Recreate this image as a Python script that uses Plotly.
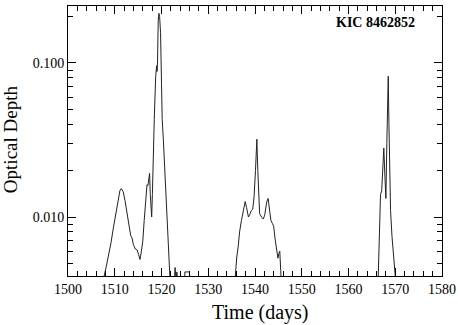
import plotly.graph_objects as go

# Time (days) and optical depth, None marks gaps between dips
time_days = [
    1507.4, 1507.7, 1508.2, 1508.7, 1509.2, 1509.7, 1510.2, 1510.7, 1511.1, 1511.4,
    1511.8, 1512.2, 1512.6, 1513.0, 1513.4, 1513.7, 1514.0, 1514.4, 1514.8, 1515.1,
    1515.4, 1515.7, 1516.0, 1516.3, 1516.6, 1516.9, 1517.1, 1517.3, 1517.45, 1517.6,
    1517.75, 1517.9, 1518.05, 1518.2, 1518.45, 1518.75, 1518.85, 1518.95, 1519.05, 1519.15,
    1519.3, 1519.45, 1519.6, 1519.8, 1520.0, 1520.15, 1520.4, 1520.8, 1521.2, 1521.5,
    1521.8, 1521.9, None,
    1522.7, 1522.9, 1523.1, 1523.3, 1523.5, None,
    1524.9, 1525.0, 1526.0, 1526.1, None,
    1535.6, 1535.8, 1536.1, 1536.4, 1536.7, 1537.1, 1537.5, 1537.9, 1538.2, 1538.6,
    1538.9, 1539.2, 1539.5, 1539.8, 1540.1, 1540.4, 1540.6, 1540.8, 1541.0, 1541.4,
    1541.8, 1542.1, 1542.5, 1542.8, 1543.1, 1543.4, 1543.7, 1544.0, 1544.3, 1544.6,
    1544.9, 1545.1, 1545.3, 1545.5, 1545.7, None,
    1566.3, 1566.6, 1566.85, 1567.1, 1567.3, 1567.55, 1567.8, 1568.0, 1568.2, 1568.35,
    1568.5, 1568.65, 1568.8, 1569.0, 1569.3, 1569.6, 1569.9, 1570.2,
]
optical_depth = [
    0.0035, 0.0041, 0.0048, 0.0056, 0.0068, 0.0085, 0.0105, 0.0130, 0.0148, 0.0153,
    0.0146, 0.0128, 0.0105, 0.0087, 0.0076, 0.0073, 0.0066, 0.0062, 0.0061, 0.0057,
    0.0053, 0.0060, 0.0070, 0.0095, 0.0135, 0.0162, 0.0160, 0.0185, 0.0192, 0.0140,
    0.0105, 0.0100, 0.0140, 0.0250, 0.0430, 0.0815, 0.0920, 0.0960, 0.0880, 0.1000,
    0.1900, 0.2100, 0.2000, 0.1570, 0.0740, 0.0430, 0.0316, 0.0178, 0.0100, 0.0065,
    0.0042, 0.0035, None,
    0.0035, 0.0047, 0.0040, 0.0044, 0.0035, None,
    0.0035, 0.0044, 0.0044, 0.0035, None,
    0.0035, 0.0045, 0.0055, 0.0064, 0.0080, 0.0095, 0.0112, 0.0126, 0.0115, 0.0100,
    0.0104, 0.0110, 0.0112, 0.0135, 0.0200, 0.0320, 0.0200, 0.0120, 0.0105, 0.0100,
    0.0097, 0.0104, 0.0125, 0.0132, 0.0115, 0.0095, 0.0091, 0.0087, 0.0072, 0.0063,
    0.0054, 0.0058, 0.0060, 0.0045, 0.0035, None,
    0.0035, 0.0070, 0.0140, 0.0148, 0.0200, 0.0280, 0.0180, 0.0132, 0.0300, 0.0600,
    0.0820, 0.0400, 0.0180, 0.0110, 0.0075, 0.0058, 0.0046, 0.0035,
]

x_ticks = [1500, 1510, 1520, 1530, 1540, 1550, 1560, 1570, 1580]
x_minor = [1500 + 2 * i for i in range(41)]
y_ticks = [0.01, 0.1]
y_tick_text = ["0.010", "0.100"]
y_minor = [0.004, 0.005, 0.006, 0.007, 0.008, 0.009,
           0.02, 0.03, 0.04, 0.05, 0.06, 0.07, 0.08, 0.09, 0.2]

x_title = "Time (days)"
y_title = "Optical Depth"
label_text = "KIC 8462852"

font_family = "Liberation Serif"

fig = go.Figure()
fig.add_trace(go.Scatter(
    x=time_days, y=optical_depth, mode="lines",
    line=dict(color="#222222", width=1), connectgaps=False,
    showlegend=False, hoverinfo="skip",
))

axis_common = dict(
    showline=True, linecolor="black", linewidth=1, mirror="ticks",
    ticks="inside", ticklen=8, tickcolor="black", tickwidth=1,
    showgrid=False, zeroline=False, automargin=False,
    tickfont=dict(family=font_family, size=14, color="black"),
)

fig.update_xaxes(
    range=[1500, 1580], tickmode="array", tickvals=x_ticks,
    minor=dict(tickmode="array", tickvals=x_minor, ticks="inside", ticklen=5,
               tickcolor="black", showgrid=False),
    **axis_common,
)
fig.update_yaxes(
    type="log", range=[-2.383, -0.630], tickmode="array",
    tickvals=y_ticks, ticktext=y_tick_text,
    minor=dict(tickmode="array", tickvals=y_minor, ticks="inside", ticklen=5,
               tickcolor="black", showgrid=False),
    **axis_common,
)

fig.add_annotation(
    text=x_title, xref="paper", yref="paper",
    x=0.513, y=-0.137, xanchor="center", yanchor="middle", showarrow=False,
    font=dict(family=font_family, size=20, color="black"),
)
fig.add_annotation(
    text=y_title, xref="paper", yref="paper", textangle=-90,
    x=-0.155, y=0.507, xanchor="center", yanchor="middle", showarrow=False,
    font=dict(family=font_family, size=19, color="black"),
)
fig.add_annotation(
    text="<b>" + label_text + "</b>", xref="paper", yref="paper",
    x=0.933, y=0.939, xanchor="right", yanchor="middle", showarrow=False,
    font=dict(family=font_family, size=14, color="black"),
)

fig.update_layout(
    width=458, height=325,
    margin=dict(l=68, r=16, t=6, b=49),
    paper_bgcolor="white", plot_bgcolor="white",
)

fig.write_html(
    "out.html",
    config={"displayModeBar": False, "staticPlot": True},
    post_script="document.body.style.margin='0';document.body.style.padding='0';"
                "document.documentElement.style.overflow='hidden';",
)
